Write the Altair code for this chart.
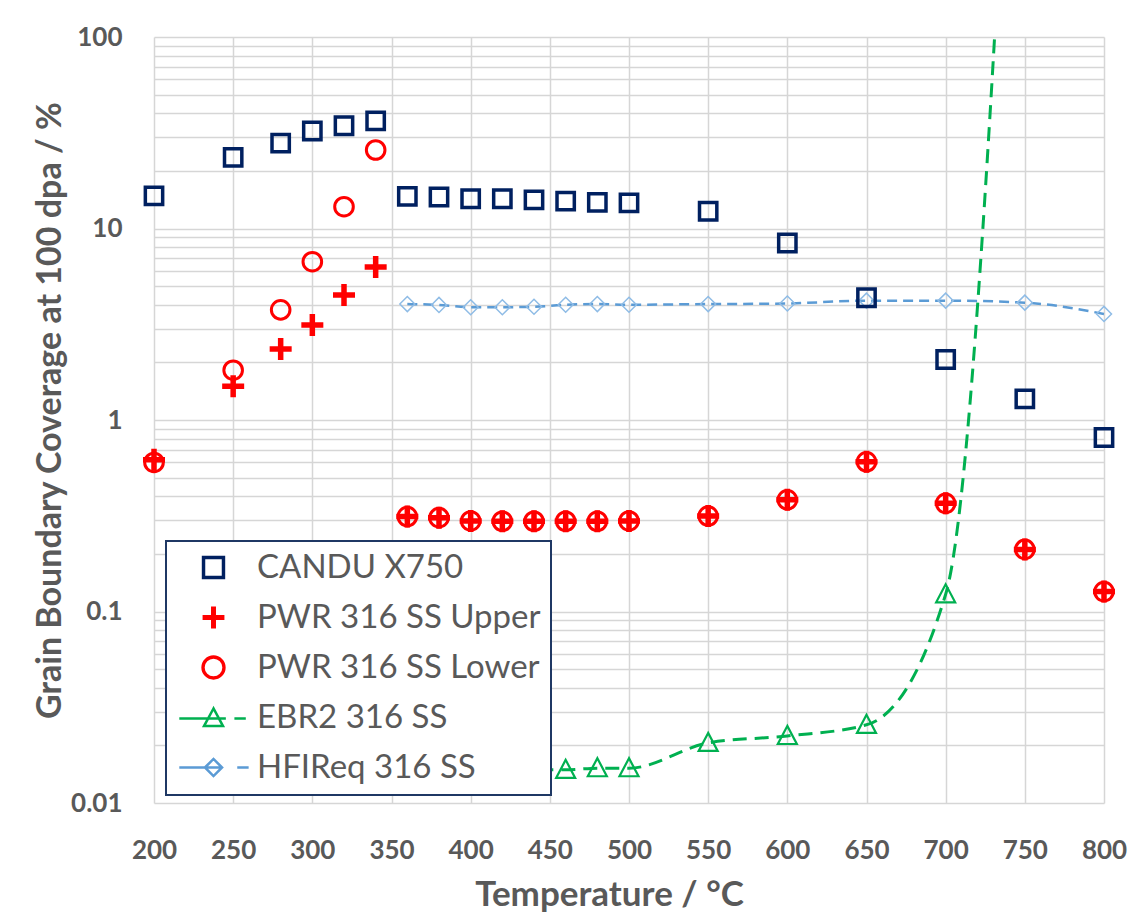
import altair as alt
import pandas as pd

# ---- data (coverage in %, temperature in deg C) ----
series_names = ["CANDU X750", "PWR 316 SS Upper", "PWR 316 SS Lower", "EBR2 316 SS", "HFIReq 316 SS"]

candu_temp = [200, 250, 280, 300, 320, 340, 360, 380, 400, 420, 440, 460, 480, 500, 550, 600, 650, 700, 750, 800]
candu_cov = [14.8, 23.5, 27.9, 32.3, 34.4, 36.5, 14.7, 14.6, 14.3, 14.3, 14.1, 13.9, 13.7, 13.6, 12.3, 8.4, 4.35, 2.07, 1.29, 0.81]

pwr_temp = [200, 250, 280, 300, 320, 340, 360, 380, 400, 420, 440, 460, 480, 500, 550, 600, 650, 700, 750, 800]
pwr_upper = [0.62, 1.50, 2.35, 3.13, 4.5, 6.3, 0.313, 0.309, 0.297, 0.296, 0.296, 0.296, 0.296, 0.297, 0.315, 0.383, 0.605, 0.367, 0.211, 0.127]
pwr_lower = [0.60, 1.82, 3.76, 6.71, 13.0, 25.7, 0.313, 0.309, 0.297, 0.296, 0.296, 0.296, 0.296, 0.297, 0.315, 0.383, 0.605, 0.367, 0.211, 0.127]

ebr2_temp = [360, 380, 400, 420, 440, 460, 480, 500, 550, 600, 650, 700, 750]
ebr2_cov = [0.0148, 0.0148, 0.0148, 0.0148, 0.0149, 0.0149, 0.0152, 0.0152, 0.0206, 0.0224, 0.0256, 0.123, 100000]

hfir_temp = [360, 380, 400, 420, 440, 460, 480, 500, 550, 600, 650, 700, 750, 800]
hfir_cov = [4.03, 3.99, 3.88, 3.88, 3.9, 4.0, 4.03, 4.0, 4.03, 4.06, 4.2, 4.2, 4.1, 3.58]

x_ticks = [200, 250, 300, 350, 400, 450, 500, 550, 600, 650, 700, 750, 800]
y_labels = [0.01, 0.1, 1, 10, 100]
y_grid = [round(m * 10.0 ** e, 6) for e in range(-2, 2) for m in range(1, 10)] + [100]

# ---- styling ----
GREY = "#595959"
GRID = "#d6d6d6"
FONT = "Lato"
NAVY = "#002060"
RED = "#FF0000"
GREEN = "#00B050"
BLUE = "#5B9BD5"
LIGHT_BLUE = "#8FBCE6"

series_colors = [NAVY, RED, RED, GREEN, BLUE]
legend_shapes = [
    "M-1.1,-1.1H1.1V1.1H-1.1Z M-1,-1H1V1H-1Z",
    "M-1.15,0H1.15M-1.15,-0.13H1.15M-1.15,0.13H1.15M0,-1.15V1.15M-0.13,-1.15V1.15M0.13,-1.15V1.15",
    "M-1.15,0A1.15,1.15,0,1,1,1.15,0A1.15,1.15,0,1,1,-1.15,0Z M-1.06,0A1.06,1.06,0,1,1,1.06,0A1.06,1.06,0,1,1,-1.06,0Z",
    "M0,-0.95L-1,0.9L1,0.9Z M-3.6,0.1H1.3 M2.2,0.1H3.4",
    "M-0.9,0L0,-0.9L0.9,0L0,0.9Z M-3.6,0H0.9 M2.5,0H3.7",
]

PLUS = "M-1,0H1M0,-1V1"
TRIANGLE = "M0,-1.05L-1,0.85L1,0.85Z"


def frame(temps, values, name):
    return pd.DataFrame({"t": temps, "v": values, "series": name})


candu_df = frame(candu_temp, candu_cov, series_names[0])
upper_df = frame(pwr_temp, pwr_upper, series_names[1])
lower_df = frame(pwr_temp, pwr_lower, series_names[2])
ebr2_df = frame(ebr2_temp, ebr2_cov, series_names[3])
hfir_df = frame(hfir_temp, hfir_cov, series_names[4])
all_df = pd.concat([candu_df, upper_df, lower_df, ebr2_df, hfir_df], ignore_index=True)

x_enc = alt.X(
    "t:Q",
    scale=alt.Scale(domain=[200, 800], nice=False, zero=False),
    axis=alt.Axis(
        values=x_ticks, format="d", title="Temperature / °C",
        grid=True, gridColor=GRID, gridWidth=1.5, domain=False, ticks=False, tickSize=0,
        labelFont=FONT, labelFontSize=26, labelFontWeight="bold", labelColor=GREY,
        labelPadding=34, labelFlush=False, labelOverlap=False,
        titleFont=FONT, titleFontSize=35, titleFontWeight="bold", titleColor=GREY,
        titleX=455, titleY=91, titleBaseline="middle", titleAlign="center",
    ),
)
y_enc = alt.Y(
    "v:Q",
    scale=alt.Scale(type="log", domain=[0.01, 100], nice=False),
    axis=alt.Axis(
        values=y_grid,
        labelExpr="indexof(%s, datum.value) >= 0 ? '' + datum.value : ''" % str(y_labels),
        title="Grain Boundary Coverage at 100 dpa / %",
        grid=True, gridColor=GRID, gridWidth=1.5, domain=False, ticks=False, tickSize=0,
        labelFont=FONT, labelFontSize=26, labelFontWeight="bold", labelColor=GREY,
        labelPadding=32, labelFlush=False, labelOverlap=False, labelBaseline="middle",
        titleFont=FONT, titleFontSize=34, titleFontWeight="bold", titleColor=GREY,
        titleAngle=270, titleX=-104, titleY=373, titleBaseline="middle", titleAlign="center",
    ),
)

hfir_line = alt.Chart(hfir_df).mark_line(
    interpolate="monotone", color=BLUE, strokeWidth=2.5, strokeDash=[10, 6]
).encode(x=x_enc, y=y_enc)

ebr2_line = alt.Chart(ebr2_df).mark_line(
    interpolate="monotone", color=GREEN, strokeWidth=3, strokeDash=[14, 8], clip=True
).encode(x=x_enc, y=y_enc)

hfir_pts = alt.Chart(hfir_df).mark_point(
    shape="diamond", size=225, filled=False, color=LIGHT_BLUE, strokeWidth=1.5, opacity=1
).encode(x=x_enc, y=y_enc)

ebr2_pts = alt.Chart(ebr2_df).mark_point(
    shape=TRIANGLE, size=361, filled=False, color=GREEN, strokeWidth=2.2, opacity=1, clip=True
).encode(x=x_enc, y=y_enc)

candu_pts = alt.Chart(candu_df).mark_point(
    shape="square", size=300, filled=False, color=NAVY, strokeWidth=3.5, opacity=1
).encode(x=x_enc, y=y_enc)

lower_pts = alt.Chart(lower_df).mark_point(
    shape="circle", size=346, filled=False, color=RED, strokeWidth=3, opacity=1
).encode(x=x_enc, y=y_enc)

upper_pts = alt.Chart(upper_df).mark_point(
    shape=PLUS, size=484, filled=False, color=RED, strokeWidth=5.5, opacity=1
).encode(x=x_enc, y=y_enc)

# invisible layer that carries the legend keys
legend_keys = alt.Chart(all_df).mark_point(
    filled=False, opacity=0, size=361, strokeWidth=2.5, clip=True
).encode(
    x=x_enc,
    y=y_enc,
    shape=alt.Shape("series:N", scale=alt.Scale(domain=series_names, range=legend_shapes), title=None),
    color=alt.Color("series:N", scale=alt.Scale(domain=series_names, range=series_colors), title=None),
)

chart = (
    alt.layer(hfir_line, ebr2_line, hfir_pts, ebr2_pts, candu_pts, lower_pts, upper_pts, legend_keys)
    .properties(
        width=950,
        height=766,
        autosize=alt.AutoSizeParams(type="none"),
        padding={"left": 154, "top": 37, "right": 34, "bottom": 112},
        background="white",
    )
    .configure_view(stroke=None)
    .configure_legend(
        orient="none", legendX=12, legendY=504,
        fillColor="white", strokeColor="#1F3864", strokeWidth=2, padding=10,
        labelFont=FONT, labelFontSize=33, labelColor=GREY, labelLimit=500,
        symbolSize=361, symbolStrokeWidth=2.5, symbolOpacity=1,
        symbolOffset=21, labelOffset=27, rowPadding=16,
    )
)

chart.save("out.html", embed_options={"renderer": "svg", "actions": False})
